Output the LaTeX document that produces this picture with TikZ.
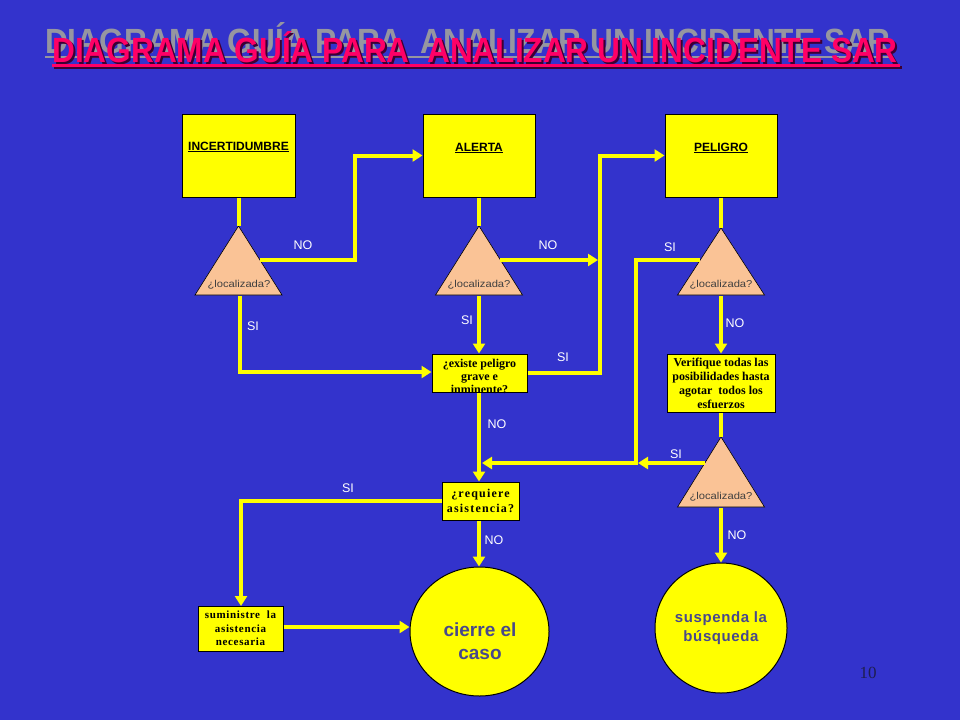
\documentclass[tikz,border=0pt]{standalone}
\usepackage{fontspec}
\setmainfont{Liberation Serif}
\setsansfont{Liberation Sans}
\usetikzlibrary{arrows.meta,shapes.geometric}
\definecolor{bgblue}{RGB}{51,51,204}
\definecolor{yel}{RGB}{255,255,0}
\definecolor{peach}{RGB}{250,195,150}
\definecolor{titlered}{RGB}{255,0,102}
\definecolor{titleshadow}{RGB}{60,0,50}
\definecolor{titlegray}{RGB}{150,150,160}
\definecolor{circtext}{RGB}{72,72,140}
\definecolor{pagenum}{RGB}{30,30,80}
\tikzset{
  conn/.style={draw=yel, line width=4pt},
  arr/.style={conn, -{Triangle[length=10pt,width=12pt]}},
  bigbox/.style={draw=black, line width=1pt, fill=yel, inner sep=0pt},
  smallbox/.style={draw=black, line width=1pt, fill=yel, inner sep=0pt, align=center,
     font=\fontsize{12pt}{14pt}\selectfont\bfseries},
  tri/.style={draw=black, line width=0.6pt, fill=peach},
  trilabel/.style={font=\sffamily\fontsize{10pt}{12pt}\selectfont, text=black!75, inner sep=0pt},
  boxtitle/.style={font=\sffamily\bfseries\fontsize{12pt}{14pt}\selectfont, inner sep=0pt},
  yn/.style={font=\sffamily\fontsize{12.5pt}{14pt}\selectfont, text=white, inner sep=0pt},
  endcirc/.style={draw=black, line width=1pt, fill=yel, ellipse, inner sep=0pt, align=center,
     text=circtext, font=\sffamily\bfseries},
  titlefont/.style={anchor=base west, inner sep=0pt, font=\sffamily\bfseries\fontsize{35pt}{37pt}\selectfont, xscale=0.903}
}
\newcommand{\titletext}{DIAGRAMA GUÍA PARA\ \ ANALIZAR UN INCIDENTE SAR}
\begin{document}
\begin{tikzpicture}[x=1pt,y=-1pt]
\fill[bgblue] (0,0) rectangle (960,720);
\useasboundingbox (0,0) rectangle (960,720);

% Title
\node[titlefont, text=titlegray] (tg) at (45,53) {\titletext};
\draw[titlegray, line width=2.5pt] (45,57) -- (893,57);
\node[titlefont, text=titleshadow] (ts) at (54,64) {\titletext};
\draw[titleshadow, line width=2.5pt] (54,67.5) -- (902,67.5);
\node[titlefont, text=titlered] (tr) at (52,62) {\titletext};
\draw[titlered, line width=2.5pt] (52,65.5) -- (900,65.5);

% Top boxes
\node[bigbox, minimum width=113pt, minimum height=83pt] (inc) at (238.5,155.5) {};
\node[boxtitle] (incl) at (238.5,147) {\underline{INCERTIDUMBRE}};
\node[bigbox, minimum width=112pt, minimum height=83pt] (ale) at (479,155.5) {};
\node[boxtitle] (alel) at (479,148) {\underline{ALERTA}};
\node[bigbox, minimum width=112pt, minimum height=83pt] (pel) at (721,155.5) {};
\node[boxtitle] (pell) at (721,148) {\underline{PELIGRO}};

% Triangles
\draw[tri] (238.5,226) -- (282,295) -- (195,295) -- cycle;
\draw[tri] (479,226) -- (522.5,295) -- (435.5,295) -- cycle;
\draw[tri] (721,228) -- (764.5,295) -- (677.5,295) -- cycle;
\draw[tri] (721,437) -- (764.5,507) -- (677.5,507) -- cycle;
\node[trilabel, xscale=1.12] (t1l) at (239,285) {¿localizada?};
\node[trilabel, xscale=1.12] (t2l) at (479,285) {¿localizada?};
\node[trilabel, xscale=1.12] (t3l) at (721,285) {¿localizada?};
\node[trilabel, xscale=1.12] (t4l) at (721,497) {¿localizada?};
\coordinate (t1a) at (238.5,226); \coordinate (t1r) at (260,260); \coordinate (t1b) at (240,296);
\coordinate (t2a) at (479,226); \coordinate (t2r) at (500,260); \coordinate (t2b) at (479,296);
\coordinate (t3a) at (721,228); \coordinate (t3w) at (700,260); \coordinate (t3b) at (721,296);
\coordinate (t4a) at (721,437); \coordinate (t4w) at (705,463); \coordinate (t4b) at (721,508);

% Small boxes
\node[smallbox, minimum width=95pt, minimum height=38pt] (exi) at (479.5,373) {};
\node[font=\fontsize{12pt}{13pt}\selectfont\bfseries, align=center, inner sep=0pt, anchor=north] (exil) at (479.5,359) {¿existe peligro\\grave e\\inminente?};
\node[smallbox, minimum width=77pt, minimum height=38pt, font=\fontsize{12pt}{15pt}\selectfont\bfseries\addfontfeature{LetterSpace=10}] (req) at (480.5,501) {¿requiere\\asistencia?};
\node[smallbox, minimum width=108pt, minimum height=58pt] (ver) at (721,383) {Verifique todas las\\posibilidades hasta\\agotar\ \ todos los\\esfuerzos};
\node[smallbox, minimum width=85pt, minimum height=45pt, font=\fontsize{11pt}{13.5pt}\selectfont\bfseries\addfontfeature{LetterSpace=6}] (sum) at (240.5,628.5) {suministre\ \ la\\asistencia\\necesaria};

% End circles
\node[endcirc, minimum width=139pt, minimum height=129pt] (cie) at (479.5,631.5) {};
\node[text=circtext, font=\sffamily\bfseries\fontsize{19pt}{23pt}\selectfont, align=center, inner sep=0pt] (ciel) at (480,641) {cierre el\\caso};
\node[endcirc, minimum width=132pt, minimum height=130pt, font=\sffamily\bfseries\fontsize{15pt}{19pt}\selectfont\addfontfeature{LetterSpace=4}] (sus) at (721,628) {suspenda la\\búsqueda};

% Connectors
\draw[conn] (inc.south) -- (t1a);
\draw[arr] (t1r) -- (355,260) -- (355,155.5) -- (ale.west);
\draw[arr] (t1b) -- (240,372) -- (exi.west |- 0,372);
\draw[conn] (ale.south) -- (t2a);
\draw[arr] (t2r) -- (598,260);
\draw[arr] (exi.east) -- (600,373) -- (600,155.5) -- (pel.west);
\draw[arr] (t2b) -- (exi.north -| t2b);
\draw[arr] (exi.south -| t2b) -- (req.north -| t2b);
\draw[conn] (pel.south) -- (t3a);
\draw[arr] (t3w) -- (636,260) -- (636,463) -- (482,463);
\draw[arr] (t3b) -- (ver.north);
\draw[conn] (ver.south) -- (t4a);
\draw[arr] (t4w) -- (638,463);
\draw[arr] (t4b) -- (sus.north);
\draw[arr] (req.west) -- (241,501) -- (241,606);
\draw[arr] (req.south -| t2b) -- (cie.north -| t2b);
\draw[arr] (sum.east |- 0,627) -- (cie.west |- 0,627);

% Yes/No labels
\node[yn] (l1) at (303,245) {NO};
\node[yn] (l2) at (253,326) {SI};
\node[yn] (l3) at (548,245) {NO};
\node[yn] (l4) at (467,320) {SI};
\node[yn] (l5) at (563,357) {SI};
\node[yn] (l6) at (670,247) {SI};
\node[yn] (l7) at (735,323) {NO};
\node[yn] (l8) at (497,424) {NO};
\node[yn] (l9) at (676,454) {SI};
\node[yn] (l10) at (348,488) {SI};
\node[yn] (l11) at (494,540) {NO};
\node[yn] (l12) at (737,535) {NO};

% Page number
\node[text=pagenum, font=\fontsize{17pt}{19pt}\selectfont, inner sep=0pt] (pg) at (868,673) {10};
\end{tikzpicture}
\end{document}
